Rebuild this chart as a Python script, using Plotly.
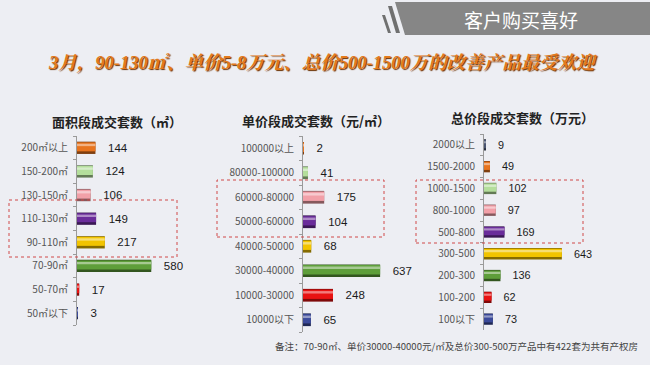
import plotly.graph_objects as go

W, H = 650, 365

# ---------------- data (bottom -> top) ----------------
area_cats = ["50㎡以下", "50-70㎡", "70-90㎡", "90-110㎡", "110-130㎡", "130-150㎡", "150-200㎡", "200㎡以上"]
area_vals = [3, 17, 580, 217, 149, 106, 124, 144]

unit_cats = ["10000以下", "10000-30000", "30000-40000", "40000-50000", "50000-60000",
             "60000-80000", "80000-100000", "100000以上"]
unit_vals = [65, 248, 637, 68, 104, 175, 41, 2]

total_cats = ["100以下", "100-200", "200-300", "300-500", "500-800", "800-1000",
              "1000-1500", "1500-2000", "2000以上"]
total_vals = [73, 62, 136, 643, 169, 97, 102, 49, 9]

titles = ["面积段成交套数（㎡）", "单价段成交套数（元/㎡）", "总价段成交套数（万元）"]
header = "客户购买喜好"
subtitle = "3月，90-130㎡、单价5-8万元、总价500-1500万的改善产品最受欢迎"
footnote = "备注：70-90㎡、单价30000-40000元/㎡及总价300-500万产品中有422套为共有产权房"

palette = ["#3B4A9A", "#E81212", "#5E9E3A", "#F2C400", "#6A2C9A",
           "#F2A0A8", "#B4DE9C", "#E8741E", "#4A5570"]

# ---------------- helpers ----------------
def px(x):
    return x / W


def py(y):
    return 1 - y / H


def shade(hexc, f):
    h = hexc.lstrip("#")
    r, g, b = int(h[0:2], 16), int(h[2:4], 16), int(h[4:6], 16)
    if f < 0:
        r, g, b = [int(c * (1 + f)) for c in (r, g, b)]
    else:
        r, g, b = [int(c + (255 - c) * f) for c in (r, g, b)]
    return "#%02x%02x%02x" % (r, g, b)


fig = go.Figure()

panels = [
    (area_cats, area_vals, "x", "y"),
    (unit_cats, unit_vals, "x2", "y2"),
    (total_cats, total_vals, "x3", "y3"),
]

for cats, vals, xa, ya in panels:
    cols = palette[:len(cats)]
    # dark base
    fig.add_trace(go.Bar(
        y=cats, x=vals, orientation="h", xaxis=xa, yaxis=ya,
        marker=dict(color=[shade(c, -0.45) for c in cols], line=dict(width=0)),
        width=0.52, offset=-0.26,
        text=vals, texttemplate="   %{x}", textposition="outside",
        textfont=dict(family="Liberation Sans, Arial", size=11.5, color="#1a1a1a"),
        cliponaxis=False, hoverinfo="skip", showlegend=False,
    ))
    # main body
    fig.add_trace(go.Bar(
        y=cats, x=vals, orientation="h", xaxis=xa, yaxis=ya,
        marker=dict(color=cols, line=dict(width=0)),
        width=0.38, offset=-0.15, hoverinfo="skip", showlegend=False,
    ))
    # highlight
    fig.add_trace(go.Bar(
        y=cats, x=vals, orientation="h", xaxis=xa, yaxis=ya,
        marker=dict(color=[shade(c, 0.45) for c in cols], line=dict(width=0)),
        width=0.1, offset=0.07, hoverinfo="skip", showlegend=False,
    ))

yaxis_common = dict(
    type="category", showline=True, linecolor="#9a9a9a", linewidth=1,
    ticks="outside", tickson="boundaries", ticklen=3, tickcolor="#9a9a9a",
    tickfont=dict(family="Noto Sans CJK SC", size=10, color="#555"),
    showgrid=False, zeroline=False, fixedrange=True, ticklabelstandoff=6,
)
xaxis_common = dict(visible=False, showgrid=False, zeroline=False, fixedrange=True)

fig.update_layout(
    width=W, height=H,
    margin=dict(l=0, r=0, t=0, b=0),
    paper_bgcolor="#EDEEF3", plot_bgcolor="rgba(0,0,0,0)",
    barmode="overlay",
    xaxis=dict(xaxis_common, domain=[px(77), px(177)], range=[0, 781], anchor="y"),
    yaxis=dict(yaxis_common, domain=[py(325), py(136)], anchor="x",
               categoryorder="array", categoryarray=area_cats),
    xaxis2=dict(xaxis_common, domain=[px(303), px(403)], range=[0, 826], anchor="y2"),
    yaxis2=dict(yaxis_common, domain=[py(332), py(136)], anchor="x2",
                categoryorder="array", categoryarray=unit_cats),
    xaxis3=dict(xaxis_common, domain=[px(484), px(584)], range=[0, 826], anchor="y3"),
    yaxis3=dict(yaxis_common, domain=[py(330), py(134)], anchor="x3",
                categoryorder="array", categoryarray=total_cats),
)

shapes = []
# header bar
shapes.append(dict(type="path", xref="paper", yref="paper",
                   path=f"M {px(395)} {py(2)} L {px(650)} {py(2)} L {px(650)} {py(35)} L {px(405)} {py(35)} Z",
                   fillcolor="#868686", line=dict(width=0), layer="below"))
shapes.append(dict(type="path", xref="paper", yref="paper",
                   path=f"M {px(388)} {py(6)} L {px(392)} {py(6)} L {px(400)} {py(33)} L {px(396)} {py(33)} Z",
                   fillcolor="#707070", line=dict(width=0), layer="below"))
shapes.append(dict(type="path", xref="paper", yref="paper",
                   path=f"M {px(382)} {py(15)} L {px(385)} {py(15)} L {px(391)} {py(33)} L {px(388)} {py(33)} Z",
                   fillcolor="#707070", line=dict(width=0), layer="below"))
# dotted highlight boxes
for x0, x1, y0, y1 in [(9, 177, 200, 257), (217, 384, 180, 237), (416, 583, 180, 243)]:
    shapes.append(dict(type="rect", xref="paper", yref="paper",
                       x0=px(x0), x1=px(x1), y0=py(y1), y1=py(y0),
                       line=dict(color="#D04848", width=1, dash="dot"),
                       fillcolor="rgba(0,0,0,0)"))
fig.update_layout(shapes=shapes)

ann = []
ann.append(dict(text=header, xref="paper", yref="paper", x=px(521), y=py(19),
                showarrow=False, xanchor="center", yanchor="middle",
                font=dict(family="Noto Sans CJK SC", size=19, color="white")))
ann.append(dict(text="<b><i>" + subtitle + "</i></b>", xref="paper", yref="paper",
                x=px(322), y=py(64), showarrow=False, xanchor="center", yanchor="middle",
                font=dict(family="Liberation Serif, Noto Serif CJK SC, Noto Sans CJK SC",
                          size=18.5, color="#E47A1C", shadow="1px 1px 1px #6a3000")))
for t, cx, cy in zip(titles, [117, 316, 522], [122, 120, 117]):
    ann.append(dict(text="<b>" + t + "</b>", xref="paper", yref="paper",
                    x=px(cx), y=py(cy), showarrow=False, xanchor="center", yanchor="middle",
                    font=dict(family="Noto Sans CJK SC", size=13, color="#222")))
ann.append(dict(text=footnote, xref="paper", yref="paper", x=px(640), y=py(346),
                showarrow=False, xanchor="right", yanchor="middle",
                font=dict(family="Noto Sans CJK SC", size=9.5, color="#444")))
fig.update_layout(annotations=ann)

fig.write_html("out.html")
